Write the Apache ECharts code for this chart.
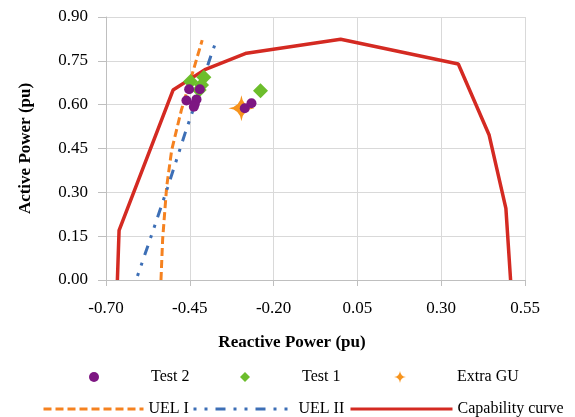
<!DOCTYPE html>
<html>
<head>
<meta charset="utf-8">
<script src="https://cdn.jsdelivr.net/npm/echarts@6/dist/echarts.min.js"></script>
<style>
  html, body { margin: 0; padding: 0; background: #fff; }
  #chart { width: 575px; height: 417px; }
</style>
</head>
<body>
<div id="chart"></div>
<script>
// Capability curve (reactive, active) in pu
const capQ = [-0.666, -0.661, -0.50, -0.405, -0.281, 0.00, 0.351, 0.443, 0.493, 0.507]
const capP = [0.00, 0.17, 0.65, 0.72, 0.776, 0.824, 0.739, 0.496, 0.245, 0.00]

const uel1Q = [-0.536, -0.531, -0.519, -0.504, -0.475, -0.445, -0.413]
const uel1P = [0.00, 0.14, 0.319, 0.445, 0.582, 0.696, 0.821]

const uel2Q = [-0.606, -0.569, -0.516, -0.463, -0.442, -0.388, -0.371]
const uel2P = [0.014, 0.137, 0.317, 0.506, 0.576, 0.764, 0.819]

const test2Q = [-0.452, -0.420, -0.460, -0.430, -0.435, -0.438, -0.286, -0.266]
const test2P = [0.653, 0.653, 0.614, 0.618, 0.602, 0.593, 0.588, 0.605]

const test1Q = [-0.448, -0.408, -0.415, -0.422, -0.239]
const test1P = [0.679, 0.694, 0.667, 0.650, 0.648]

const extraQ = [-0.296]
const extraP = [0.588]

// x axis ticks run -0.70 .. 0.55 step 0.25; shift so ticks start from 0
const X_SHIFT = 0.7

const pairs = (q, p) => q.map((v, i) => [v + X_SHIFT, p[i]])

const FONT = 'Liberation Serif'
const STAR = 'path://M0,-12 Q1.2,-1.2 12,0 Q1.2,1.2 0,12 Q-1.2,1.2 -12,0 Q-1.2,-1.2 0,-12 Z'
const DIAMOND = 'path://M0,-1 L1,0 L0,1 L-1,0 Z'
// hide the marker that line legends draw in the middle
const NO_MARK = { color: 'rgba(0,0,0,0)', opacity: 0, borderWidth: 0 }

const legendBase = {
  orient: 'horizontal',
  itemGap: 0,
  itemHeight: 10,
  itemWidth: 104,
  textStyle: { fontFamily: FONT, fontSize: 16, color: '#000' }
}

const chart = echarts.init(document.getElementById('chart'))

const option = {
  backgroundColor: '#fff',
  animation: false,
  grid: { left: 106, right: 50, top: 17, bottom: 137 },
  legend: [
    Object.assign({}, legendBase, { left: 84, top: 364, data: [{ name: 'Test 2', icon: 'circle' }] }),
    Object.assign({}, legendBase, { left: 235, top: 364, data: [{ name: 'Test 1', icon: DIAMOND }] }),
    Object.assign({}, legendBase, { left: 389, top: 364, itemHeight: 12, data: [{ name: 'Extra GU', icon: STAR }] }),
    Object.assign({}, legendBase, {
      left: 37, top: 396, itemWidth: 100, lineStyle: { width: 3 },
      data: [{ name: 'UEL I', itemStyle: NO_MARK }]
    }),
    Object.assign({}, legendBase, {
      left: 187, top: 396, itemWidth: 100, lineStyle: { width: 3 },
      data: [{ name: 'UEL II', itemStyle: NO_MARK }]
    }),
    Object.assign({}, legendBase, {
      left: 344, top: 396, itemWidth: 102, lineStyle: { width: 3 },
      data: [{ name: 'Capability curve', itemStyle: NO_MARK }]
    })
  ],
  xAxis: {
    type: 'value',
    min: 0,
    max: 1.25,
    interval: 0.25,
    name: 'Reactive Power (pu)',
    nameLocation: 'middle',
    nameGap: 54,
    nameTextStyle: {
      fontFamily: FONT, fontSize: 17, fontWeight: 'bold', color: '#000',
      padding: [0, 47, 0, 0]
    },
    axisLine: { lineStyle: { color: '#bfbfbf', width: 1 } },
    axisTick: { show: true, length: 6, lineStyle: { color: '#bfbfbf' } },
    axisLabel: {
      margin: 20,
      fontFamily: FONT, fontSize: 17, color: '#000',
      formatter: v => (v - X_SHIFT).toFixed(2)
    },
    splitLine: { show: true, lineStyle: { color: '#d9d9d9', width: 1 } }
  },
  yAxis: {
    type: 'value',
    min: 0,
    max: 0.9,
    interval: 0.15,
    name: 'Active Power (pu)',
    nameLocation: 'middle',
    nameGap: 72,
    nameRotate: 90,
    nameTextStyle: { fontFamily: FONT, fontSize: 17, fontWeight: 'bold', color: '#000' },
    axisLine: { show: true, lineStyle: { color: '#bfbfbf', width: 1 } },
    axisTick: { show: true, length: 8, lineStyle: { color: '#bfbfbf' } },
    axisLabel: {
      margin: 18,
      fontFamily: FONT, fontSize: 17, color: '#000',
      formatter: v => v.toFixed(2)
    },
    splitLine: { show: true, lineStyle: { color: '#d9d9d9', width: 1 } }
  },
  series: [
    {
      name: 'UEL I',
      type: 'line',
      data: pairs(uel1Q, uel1P),
      symbol: 'none',
      z: 2,
      lineStyle: { color: '#f58220', width: 3, type: [8, 4] },
      itemStyle: { color: '#f58220' }
    },
    {
      name: 'UEL II',
      type: 'line',
      data: pairs(uel2Q, uel2P),
      symbol: 'none',
      z: 2,
      lineStyle: { color: '#3d6fb6', width: 3, type: [3, 8, 3, 8, 10, 8] },
      itemStyle: { color: '#3d6fb6' }
    },
    {
      name: 'Capability curve',
      type: 'line',
      data: pairs(capQ, capP),
      symbol: 'none',
      z: 2,
      lineStyle: { color: '#d42a22', width: 3.5 },
      itemStyle: { color: '#d42a22' }
    },
    {
      name: 'Extra GU',
      type: 'scatter',
      data: pairs(extraQ, extraP),
      symbol: STAR,
      symbolSize: 26,
      z: 3,
      itemStyle: { color: '#f7941d', opacity: 1 }
    },
    {
      name: 'Test 1',
      type: 'scatter',
      data: pairs(test1Q, test1P),
      symbol: 'diamond',
      symbolSize: 15,
      z: 4,
      itemStyle: { color: '#6cbd2c', opacity: 1 }
    },
    {
      name: 'Test 2',
      type: 'scatter',
      data: pairs(test2Q, test2P),
      symbol: 'circle',
      symbolSize: 10,
      z: 5,
      itemStyle: { color: '#7d1682', opacity: 1 }
    }
  ]
}

chart.setOption(option)
</script>
</body>
</html>
